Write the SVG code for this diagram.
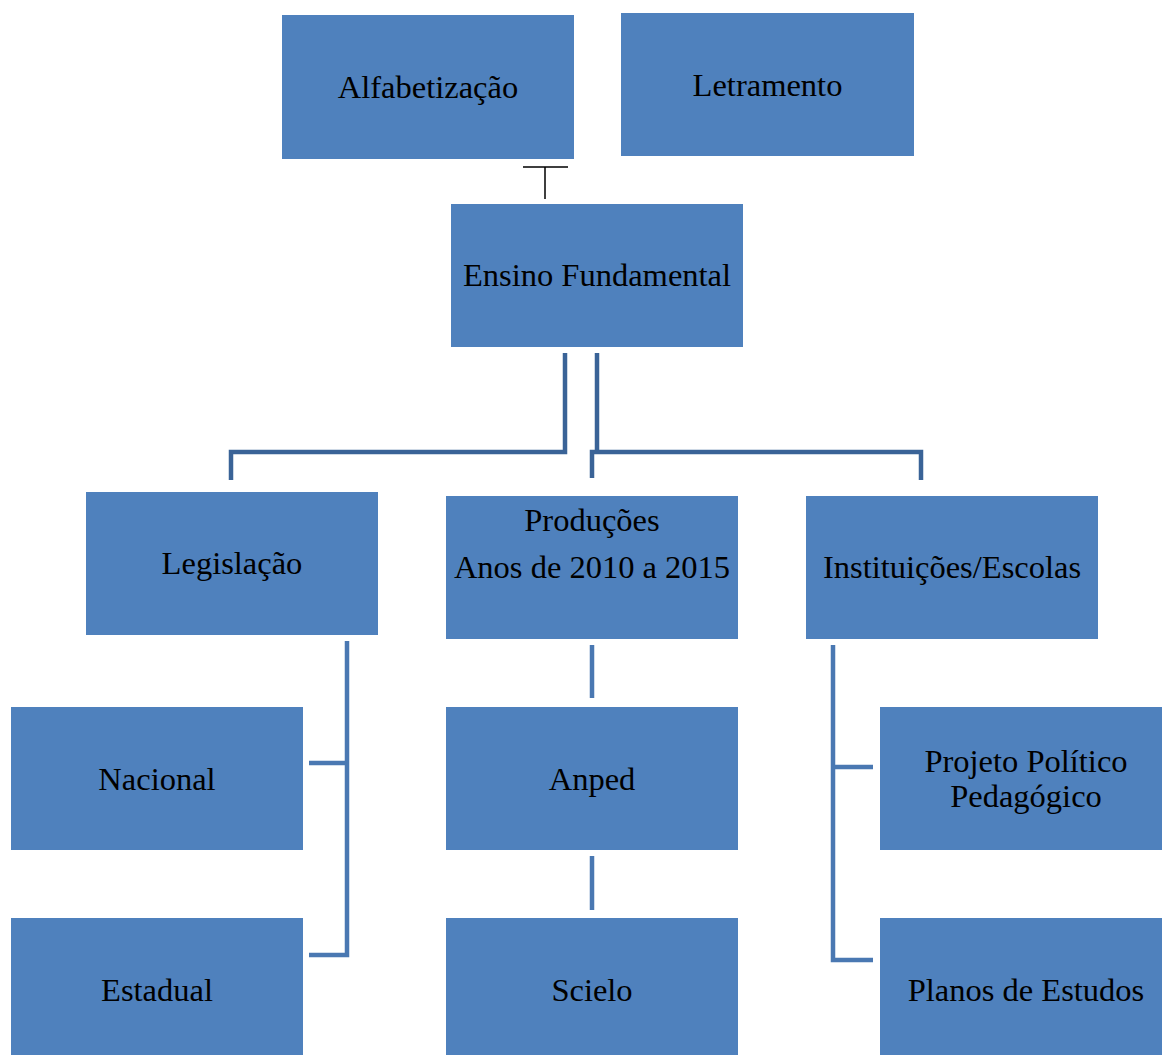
<svg xmlns="http://www.w3.org/2000/svg" width="1162" height="1055" viewBox="0 0 1162 1055">
<style>
.box{fill:#4F81BD;}
.t{font-family:"Liberation Serif","Times New Roman",serif;font-size:32.5px;fill:#000;text-anchor:middle;}
.c1{fill:none;stroke:#3A6397;stroke-width:4.5;}
.c2{fill:none;stroke:#4A78B2;stroke-width:4.5;}
.c0{fill:none;stroke:#000;stroke-width:1.5;}
</style>
<rect width="1162" height="1055" fill="#fff"/>
<g id="connectors">
<path class="c0" d="M523 167H568M545 167V199"/>
<path class="c1" d="M565 353V452H231V480"/>
<path class="c1" d="M597 353V452"/>
<path class="c1" d="M592 478V452H921V480"/>
<path class="c2" d="M347 641V955H309M347 763H309"/>
<path class="c2" d="M592 645V698M592 856V910"/>
<path class="c2" d="M833 645V960H873M833 767H873"/>
</g>
<g id="alfabetizacao"><rect class="box" x="282" y="15" width="292" height="144"/><text class="t" x="428" y="98">Alfabetização</text></g>
<g id="letramento"><rect class="box" x="621" y="13" width="293" height="143"/><text class="t" x="767.5" y="96">Letramento</text></g>
<g id="ensino"><rect class="box" x="451" y="204" width="292" height="143"/><text class="t" x="597" y="286">Ensino Fundamental</text></g>
<g id="legislacao"><rect class="box" x="86" y="492" width="292" height="143"/><text class="t" x="232" y="574">Legislação</text></g>
<g id="producoes"><rect class="box" x="446" y="496" width="292" height="143"/><text class="t" x="592" y="531">Produções</text><text class="t" x="592" y="578">Anos de 2010 a 2015</text></g>
<g id="instituicoes"><rect class="box" x="806" y="496" width="292" height="143"/><text class="t" x="952" y="578">Instituições/Escolas</text></g>
<g id="nacional"><rect class="box" x="11" y="707" width="292" height="143"/><text class="t" x="157" y="790">Nacional</text></g>
<g id="estadual"><rect class="box" x="11" y="918" width="292" height="143"/><text class="t" x="157" y="1001">Estadual</text></g>
<g id="anped"><rect class="box" x="446" y="707" width="292" height="143"/><text class="t" x="592" y="790">Anped</text></g>
<g id="scielo"><rect class="box" x="446" y="918" width="292" height="143"/><text class="t" x="592" y="1001">Scielo</text></g>
<g id="projeto"><rect class="box" x="880" y="707" width="292" height="143"/><text class="t" x="1026" y="772">Projeto Político</text><text class="t" x="1026" y="807">Pedagógico</text></g>
<g id="planos"><rect class="box" x="880" y="918" width="292" height="143"/><text class="t" x="1026" y="1001">Planos de Estudos</text></g>
</svg>
